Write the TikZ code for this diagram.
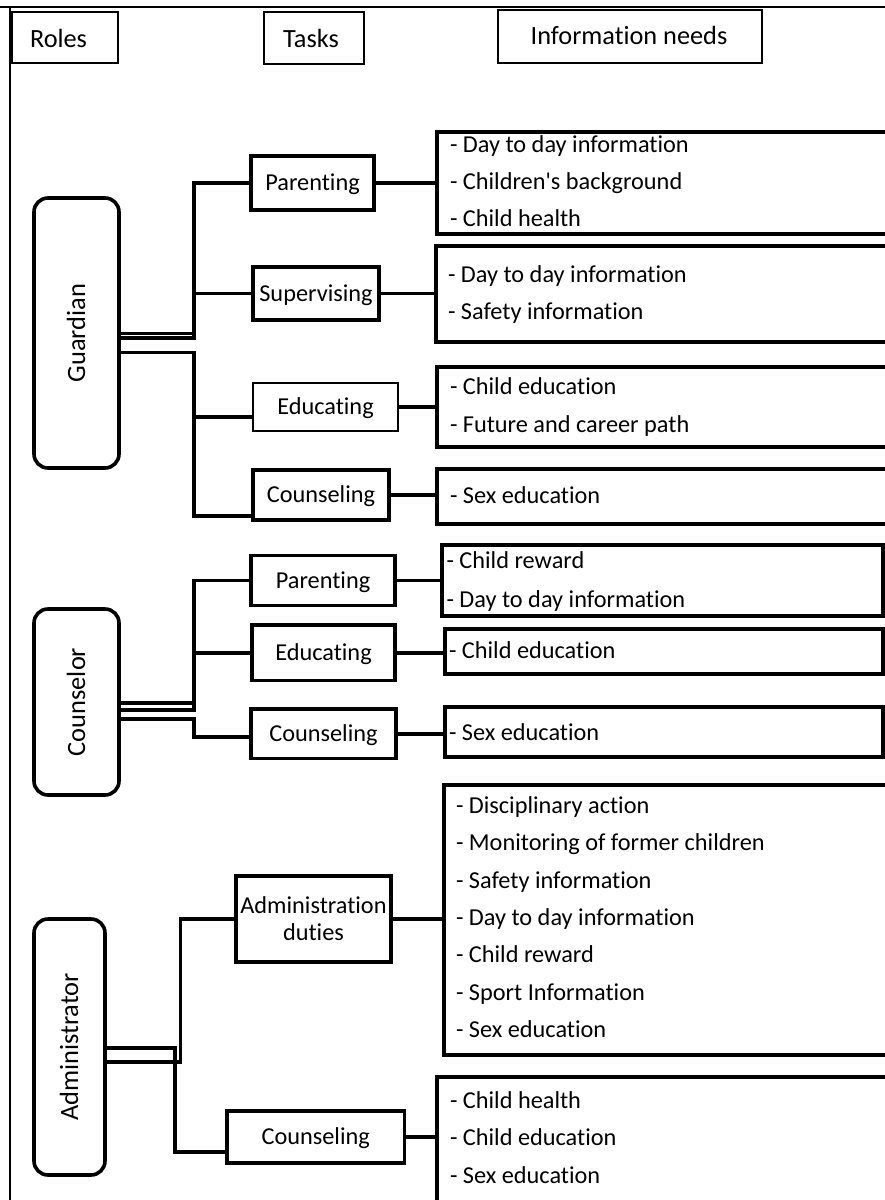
\documentclass[tikz,border=0pt]{standalone}
\usepackage{fontspec}
\newfontfamily\carl[Ligatures=NoCommon]{Carlito}
\setmainfont{Carlito}
\begin{document}
\begin{tikzpicture}[x=1pt,y=-1pt,
  every node/.style={inner sep=0pt,outer sep=0pt},
  hfont/.style={font=\carl\fontsize{26.3pt}{30pt}\selectfont},
  hdr/.style={draw,line width=2.2pt},
  role/.style={draw,line width=3.6pt,rounded corners=14pt},
  rolelbl/.style={rotate=90,font=\carl\fontsize{26.4pt}{30pt}\selectfont,text height=17pt,text depth=0pt},
  task/.style={draw,line width=3.6pt,font=\carl\fontsize{24.3pt}{29pt}\selectfont,text height=15.6pt,text depth=0pt},
  tfont/.style={font=\carl\fontsize{24.3pt}{29pt}\selectfont},
  info/.style={draw,line width=3.6pt},
  itxt/.style={anchor=base west,font=\carl\fontsize{24.3pt}{29pt}\selectfont},
  conn/.style={line width=3.6pt},
  frameline/.style={line width=2pt}]
\useasboundingbox (0,0) rectangle (885,1200);
\clip (0,0) rectangle (885,1200);

% outer frame
\draw[frameline] (0,7) -- (885,7);
\draw[frameline] (10,7) -- (10,1200);

% headers
\node[hdr,minimum width=106,minimum height=51] (hR) at (65,37.5) {};
\node[hfont,anchor=base west] (hRt) at (30,47) {Roles};
\node[hdr,minimum width=100.5,minimum height=52] (hT) at (314,38) {};
\node[hfont,anchor=base] (hTt) at (311,47) {Tasks};
\node[hdr,minimum width=263.5,minimum height=53] (hI) at (630,36.5) {};
\node[hfont,anchor=base] (hIt) at (629,44) {Information needs};

% ---------------- Guardian ----------------
\node[role,minimum width=85,minimum height=270] (gR) at (76.5,333) {};
\node[rolelbl] (gRl) at (gR) {Guardian};

\node[task,minimum width=123,minimum height=54.5] (gP) at (312.5,183) {Parenting};
\node[task,minimum width=126,minimum height=53] (gS) at (316,293.5) {Supervising};
\node[task,line width=2pt,minimum width=145,minimum height=48.5] (gE) at (325.5,407) {Educating};
\node[task,minimum width=136,minimum height=50] (gC) at (321,495) {Counseling};

\node[info,minimum width=463,minimum height=102] (gIP) at (668.5,183) {};
\node[info,minimum width=464,minimum height=96] (gIS) at (668,294) {};
\node[info,minimum width=463,minimum height=80] (gIE) at (668.5,407) {};
\node[info,minimum width=463,minimum height=55] (gIC) at (668.5,496.5) {};

\foreach \y/\t [count=\k] in {152/{- Day to day information},189/{- Children's background},226/{- Child health}}
  \node[itxt] (gIPt\k) at (450,\y) {\t};
\foreach \y/\t [count=\k] in {282/{- Day to day information},319/{- Safety information}}
  \node[itxt] (gISt\k) at (448,\y) {\t};
\foreach \y/\t [count=\k] in {394/{- Child education},432/{- Future and career path}}
  \node[itxt] (gIEt\k) at (450,\y) {\t};
\node[itxt] (gICt1) at (450,503) {- Sex education};

\coordinate (gT) at (194,0);
\coordinate (gEb) at ([yshift=-10pt]gE.west);
\coordinate (gCb) at ([yshift=-21pt]gC.west);
\draw[conn] ([yshift=-0.5pt]gR.east) -| (gT |- gP.west) -- (gP.west);
\draw[conn] ([yshift=-5pt]gR.east) -| (gT |- gS.west) -- (gS.west);
\draw[conn] ([yshift=-19.5pt]gR.east) -| (gT |- gEb) -- (gEb);
\draw[conn] ([yshift=-19.5pt]gR.east) -| (gT |- gCb) -- (gCb);

\draw[conn] (gP.east) -- (gP.east -| gIP.west);
\draw[conn] (gS.east) -- (gS.east -| gIS.west);
\draw[conn] (gE.east) -- (gE.east -| gIE.west);
\draw[conn] (gC.east) -- (gC.east -| gIC.west);

% ---------------- Counselor ----------------
\node[role,minimum width=85,minimum height=186] (cR) at (76.5,702) {};
\node[rolelbl] (cRl) at (cR) {Counselor};

\node[task,minimum width=144,minimum height=50] (cP) at (323,580.5) {Parenting};
\node[task,minimum width=143,minimum height=55.5] (cE) at (323.5,652.7) {Educating};
\node[task,minimum width=145,minimum height=49.5] (cC) at (323.5,733.7) {Counseling};

\node[info,minimum width=441,minimum height=71] (cIP) at (662.5,580.5) {};
\node[info,minimum width=438,minimum height=45] (cIE) at (664,651.5) {};
\node[info,minimum width=438,minimum height=50] (cIC) at (664,732) {};

\foreach \y/\t [count=\k] in {568/{- Child reward},607/{- Day to day information}}
  \node[itxt] (cIPt\k) at (446.5,\y) {\t};
\node[itxt] (cIEt1) at (449,658) {- Child education};
\node[itxt] (cICt1) at (449,740) {- Sex education};

\coordinate (cT) at (194,0);
\coordinate (cCb) at ([yshift=-3pt]cC.west);
\draw[conn] ([yshift=-1pt]cR.east) -| (cT |- cP.west) -- (cP.west);
\draw[conn] ([yshift=-8pt]cR.east) -| (cT |- cE.west) -- (cE.west);
\draw[conn] ([yshift=-17pt]cR.east) -| (cT |- cCb) -- (cCb);

\draw[conn] (cP.east) -- (cP.east -| cIP.west);
\draw[conn] (cE.east) -- (cE.east -| cIE.west);
\draw[conn] (cC.east) -- (cC.east -| cIC.west);

% ---------------- Administrator ----------------
\node[role,minimum width=71,minimum height=256] (aR) at (69.5,1047) {};
\node[rolelbl] (aRl) at (aR) {Administrator};

\node[draw,line width=3.6pt,minimum width=155,minimum height=86] (aD) at (313.5,919) {};
\node[tfont,anchor=base] (aDt1) at (313.5,913) {Administration};
\node[tfont,anchor=base] (aDt2) at (313.5,940) {duties};
\node[task,minimum width=177.5,minimum height=52] (aC) at (315.75,1137) {Counseling};

\node[info,minimum width=456,minimum height=270] (aID) at (672,920) {};
\node[info,minimum width=463,minimum height=138] (aIC) at (668.5,1146) {};

\foreach \y/\t [count=\k] in {813/{- Disciplinary action},850/{- Monitoring of former children},888/{- Safety information},925/{- Day to day information},962/{- Child reward},1000/{- Sport Information},1037/{- Sex education}}
  \node[itxt] (aIDt\k) at (456,\y) {\t};
\foreach \y/\t [count=\k] in {1108/{- Child health},1145/{- Child education},1183/{- Sex education}}
  \node[itxt] (aICt\k) at (450,\y) {\t};

\coordinate (aT1) at (180.5,0);
\coordinate (aT2) at (175,0);
\coordinate (aCb) at ([yshift=-15pt]aC.west);
\draw[conn] ([yshift=-15pt]aR.east) -| (aT1 |- aD.west) -- (aD.west);
\draw[conn] ([yshift=-1pt]aR.east) -| (aT2 |- aCb) -- (aCb);

\draw[conn] (aD.east) -- (aD.east -| aID.west);
\draw[conn] (aC.east) -- (aC.east -| aIC.west);
\end{tikzpicture}
\end{document}
